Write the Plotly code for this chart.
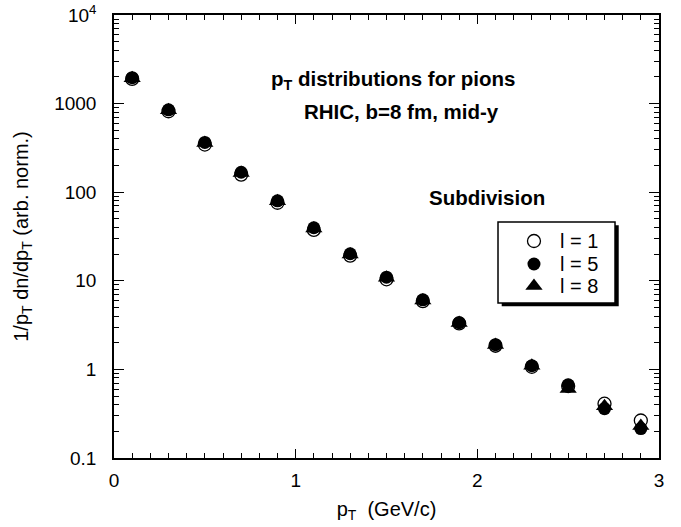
import plotly.graph_objects as go

# transverse momentum bins (GeV/c)
pt = [0.1, 0.3, 0.5, 0.7, 0.9, 1.1, 1.3, 1.5, 1.7, 1.9, 2.1, 2.3, 2.5, 2.7, 2.9]

# 1/pT dN/dpT for three subdivision numbers
sub_l1 = [1900, 820, 345, 158, 76, 37.5, 19.2, 10.4, 5.9, 3.3, 1.85, 1.07, 0.65, 0.41, 0.265]
sub_l5 = [1960, 850, 365, 168, 80, 39.7, 20.2, 11.0, 6.1, 3.37, 1.9, 1.1, 0.67, 0.36, 0.215]
sub_l8 = [1930, 840, 360, 165, 79, 39.0, 19.8, 10.8, 6.0, 3.35, 1.88, 1.1, 0.60, 0.385, 0.23]

series_names = ["l = 1", "l = 5", "l = 8"]

y_major = [0.1, 1, 10, 100, 1000, 10000]
y_major_text = ["0.1", "1", "10", "100", "1000", "10<sup>4</sup>"]
y_minor = [m * 10 ** e for e in range(-1, 4) for m in range(2, 10)]

x_major = [i * 0.5 for i in range(7)]
x_major_text = ["0", "", "1", "", "2", "", "3"]
x_minor = [round(i * 0.1, 1) for i in range(31)]

FONT = "Liberation Sans, Arial, Helvetica, sans-serif"

# marker styles shared by the data and the legend keys
styles = {
    "l = 1": dict(symbol="circle", size=13, color="white",
                  line=dict(color="black", width=1.3)),
    "l = 5": dict(symbol="circle", size=13, color="black",
                  line=dict(color="black", width=0)),
    "l = 8": dict(symbol="triangle-up", size=15, color="black",
                  line=dict(color="black", width=0)),
}

fig = go.Figure()
for name, vals in [("l = 1", sub_l1), ("l = 8", sub_l8), ("l = 5", sub_l5)]:
    fig.add_trace(go.Scatter(x=pt, y=vals, mode="markers", name=name,
                             marker=styles[name], showlegend=False))

# legend box (paper coordinates) with drop shadow
box = dict(x0=0.7046, x1=0.9193, y0=0.3499, y1=0.5327)
shadow_dx, shadow_dy = 0.0068, 0.0075
key_x, text_x = 0.7706, 0.8147
row_y = [0.4898, 0.4379, 0.3883]

fig.add_shape(type="rect", xref="paper", yref="paper", layer="below",
              x0=box["x0"] + shadow_dx, x1=box["x1"] + shadow_dx,
              y0=box["y0"] - shadow_dy, y1=box["y1"] - shadow_dy,
              fillcolor="black", line=dict(width=0))
fig.add_shape(type="rect", xref="paper", yref="paper", layer="below",
              fillcolor="white", line=dict(color="black", width=1.5), **box)

# legend keys on an overlay axis pair spanning the plot area in [0, 1]
for name, yk in zip(series_names, row_y):
    fig.add_trace(go.Scatter(x=[key_x], y=[yk], mode="markers", name=name,
                             marker=styles[name], showlegend=False,
                             xaxis="x2", yaxis="y2", hoverinfo="skip"))
    fig.add_annotation(x=text_x, y=yk, xref="paper", yref="paper",
                       xanchor="left", yanchor="middle", showarrow=False,
                       text=name, font=dict(family=FONT, size=20, color="black"))

axis_common = dict(
    showline=True, linecolor="black", linewidth=1.5, mirror="allticks",
    ticks="inside", tickcolor="black", tickwidth=1.2,
    showgrid=False, zeroline=False, automargin=False,
    tickfont=dict(family=FONT, size=19, color="black"),
)

fig.update_xaxes(
    range=[0, 3], tickmode="array", tickvals=x_major, ticktext=x_major_text,
    ticklen=9, ticklabelstandoff=4,
    minor=dict(tickvals=x_minor, ticks="inside", ticklen=5, tickcolor="black",
               tickwidth=1.2, showgrid=False),
    title=dict(text="p<sub>T</sub>  (GeV/c)", font=dict(family=FONT, size=20, color="black"),
               standoff=12),
    **axis_common,
)
fig.update_yaxes(
    type="log", range=[-1, 4], tickmode="array", tickvals=y_major,
    ticktext=y_major_text, ticklen=10, ticklabelstandoff=12,
    minor=dict(tickvals=y_minor, ticks="inside", ticklen=5, tickcolor="black",
               tickwidth=1.2, showgrid=False),
    title=dict(text="1/p<sub>T</sub> dn/dp<sub>T</sub> (arb. norm.)",
               font=dict(family=FONT, size=20, color="black"), standoff=20),
    **axis_common,
)

fig.update_layout(
    xaxis2=dict(overlaying="x", range=[0, 1], visible=False, fixedrange=True),
    yaxis2=dict(overlaying="y", range=[0, 1], visible=False, fixedrange=True),
)

fig.add_annotation(
    x=0.512, y=0.887, xref="paper", yref="paper", showarrow=False,
    text="<b>p<sub>T</sub> distributions for pions</b>",
    font=dict(family=FONT, size=20.5, color="black"),
)
fig.add_annotation(
    x=0.527, y=0.813, xref="paper", yref="paper", showarrow=False,
    text="<b>RHIC, b=8 fm, mid-y</b>",
    font=dict(family=FONT, size=20.5, color="black"),
)
fig.add_annotation(
    x=0.7936, y=0.587, xref="paper", yref="paper", showarrow=False,
    text="<b>Subdivision</b>",
    font=dict(family=FONT, size=20.5, color="black"),
)

fig.update_layout(
    width=681, height=527,
    margin=dict(l=114, r=22, t=15, b=69),
    paper_bgcolor="white", plot_bgcolor="white",
    showlegend=False,
)

fig.write_html("out.html")
